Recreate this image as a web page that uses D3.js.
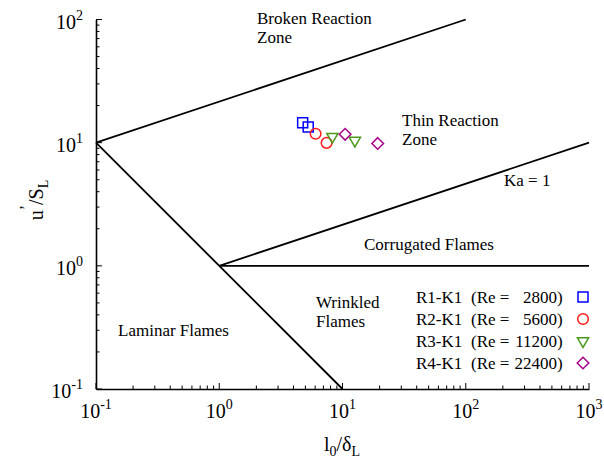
<!DOCTYPE html>
<html lang="en">
<head>
    <meta charset="UTF-8">
    <title>Regime diagram</title>
    <style>
        body { margin: 0; background: #fff; }
    </style>
</head>
<body>
    <svg width="604" height="461"></svg>

    <script src="https://d3js.org/d3.v7.min.js"></script>
    <script>
        // Data
        const series = ['R1-K1', 'R2-K1', 'R3-K1', 'R4-K1'];
        const reynolds = [2800, 5600, 11200, 22400];
        const lengthRatio = [[4.75, 5.27], [6.05, 7.43], [8.28, 12.6], [10.5, 19.3]];
        const velocityRatio = [[14.5, 13.4], [11.8, 9.96], [11.2, 10.4], [11.7, 9.85]];
        const xTicks = [0.1, 1, 10, 100, 1000];
        const yTicks = [0.1, 1, 10, 100];
        const xExponents = ['-1', '0', '1', '2', '3'];
        const yExponents = ['-1', '0', '1', '2'];
        // regime boundaries, as [l0/dL, u'/SL] end points
        const boundaries = [
            [[0.1, 10], [100, 100]],
            [[0.1, 10], [10, 0.1]],
            [[1, 1], [1000, 10]],
            [[1, 1], [1000, 1]]
        ];

        const colors = ['#0000ff', '#ff1a1a', '#4c9a1c', '#a8008c'];
        const shapes = ['square', 'circle', 'triangle', 'diamond'];
        const serif = '"Liberation Serif", "Times New Roman", serif';

        const plotLeft = 96, plotRight = 589, plotTop = 19.5, plotBottom = 389;

        const svg = d3.select('svg').style('font-family', serif);

        const x = d3.scaleLog().domain([0.1, 1000]).range([plotLeft, plotRight]);
        const y = d3.scaleLog().domain([0.1, 100]).range([plotBottom, plotTop]);

        // marker paths centred on 0,0
        function marker(shape) {
            const p = d3.path();
            if (shape === 'square') {
                p.rect(-5, -5, 10, 10);
            } else if (shape === 'circle') {
                p.arc(0, 0, 5.3, 0, 2 * Math.PI);
            } else if (shape === 'triangle') {
                p.moveTo(-5.6, -3.2); p.lineTo(5.6, -3.2); p.lineTo(0, 6.4); p.closePath();
            } else {
                p.moveTo(0, -5.8); p.lineTo(5.8, 0); p.lineTo(0, 5.8); p.lineTo(-5.8, 0); p.closePath();
            }
            return p.toString();
        }

        function addText(sel) {
            return sel.append('text').style('font-family', serif).attr('fill', '#000');
        }

        // axes: only bottom and left, ticks inside
        svg.append('g').attr('transform', `translate(0,${plotBottom})`)
            .call(d3.axisTop(x).tickValues([]).tickSize(0))
            .call(g => g.select('.domain').attr('stroke-width', 1.6));
        svg.append('g').selectAll('line')
            .data(x.ticks())
            .join('line')
            .attr('x1', d => x(d)).attr('x2', d => x(d))
            .attr('y1', plotBottom)
            .attr('y2', d => plotBottom - (xTicks.includes(d) ? 6 : 3.5))
            .attr('stroke', '#000').attr('stroke-width', 1);

        svg.append('g').attr('transform', `translate(${plotLeft},0)`)
            .call(d3.axisRight(y).tickValues([]).tickSize(0))
            .call(g => g.select('.domain').attr('stroke-width', 1.6));
        svg.append('g').selectAll('line')
            .data(y.ticks())
            .join('line')
            .attr('y1', d => y(d)).attr('y2', d => y(d))
            .attr('x1', plotLeft)
            .attr('x2', d => plotLeft + (yTicks.includes(d) ? 6 : 3.5))
            .attr('stroke', '#000').attr('stroke-width', 1);

        // tick labels 10^n
        const xl = svg.append('g').selectAll('text')
            .data(xTicks)
            .join('text')
            .style('font-family', serif)
            .attr('font-size', 20)
            .attr('x', d => x(d))
            .attr('y', 418)
            .attr('text-anchor', 'middle');
        xl.append('tspan').text('10');
        xl.append('tspan').attr('dy', -9).attr('font-size', 14).text((d, i) => xExponents[i]);

        const yl = svg.append('g').selectAll('text')
            .data(yTicks)
            .join('text')
            .style('font-family', serif)
            .attr('font-size', 20)
            .attr('x', 83)
            .attr('y', d => y(d) + 9)
            .attr('text-anchor', 'end');
        yl.append('tspan').text('10');
        yl.append('tspan').attr('dy', -9).attr('font-size', 14).text((d, i) => yExponents[i]);

        // axis titles
        const xt = addText(svg).attr('font-size', 20)
            .attr('x', 342).attr('y', 451).attr('text-anchor', 'middle');
        xt.append('tspan').text('l');
        xt.append('tspan').attr('dy', 5).attr('font-size', 14).text('0');
        xt.append('tspan').attr('dy', -5).text('/δ');
        xt.append('tspan').attr('dy', 5).attr('font-size', 14).text('L');

        const yt = addText(svg).attr('font-size', 20)
            .attr('transform', 'translate(43,200) rotate(-90)').attr('text-anchor', 'middle');
        yt.append('tspan').text('u');
        yt.append('tspan').attr('dy', -12).attr('font-size', 16).text('\u2019');
        yt.append('tspan').attr('dy', 12).text('/S');
        yt.append('tspan').attr('dy', 5).attr('font-size', 14).text('L');

        // regime boundaries
        svg.append('g').selectAll('line')
            .data(boundaries)
            .join('line')
            .attr('x1', d => x(d[0][0])).attr('y1', d => y(d[0][1]))
            .attr('x2', d => x(d[1][0])).attr('y2', d => y(d[1][1]))
            .attr('stroke', '#000').attr('stroke-width', 1.8);

        // zone labels, one text per label with a tspan per line
        const zones = [
            { lines: ['Broken Reaction', 'Zone'], x: 257, y: 24 },
            { lines: ['Thin Reaction', 'Zone'], x: 402, y: 126 },
            { lines: ['Ka = 1'], x: 504, y: 186 },
            { lines: ['Corrugated Flames'], x: 364, y: 250 },
            { lines: ['Wrinkled', 'Flames'], x: 316, y: 307.5 },
            { lines: ['Laminar Flames'], x: 118, y: 336 }
        ];
        zones.forEach(z => {
            const t = addText(svg).attr('font-size', 17).attr('x', z.x).attr('y', z.y);
            z.lines.forEach((line, i) => {
                t.append('tspan').attr('x', z.x).attr('dy', i === 0 ? 0 : 19).text(line);
            });
        });

        // data points
        series.forEach((s, i) => {
            svg.append('g').selectAll('path')
                .data(lengthRatio[i].map((v, j) => [v, velocityRatio[i][j]]))
                .join('path')
                .attr('d', marker(shapes[i]))
                .attr('transform', d => `translate(${x(d[0])},${y(d[1])})`)
                .attr('fill', 'none')
                .attr('stroke', colors[i])
                .attr('stroke-width', 1.5);
        });

        // legend
        const legend = svg.append('g').selectAll('g')
            .data(series)
            .join('g')
            .attr('transform', (d, i) => `translate(0,${297 + i * 22})`);
        addText(legend).attr('font-size', 17).attr('x', 416).attr('y', 6).text(d => d);
        addText(legend).attr('font-size', 17).attr('x', 471).attr('y', 6).text('(Re =');
        addText(legend).attr('font-size', 17).attr('x', 557).attr('y', 6)
            .attr('text-anchor', 'end').text((d, i) => reynolds[i]);
        addText(legend).attr('font-size', 17).attr('x', 557).attr('y', 6).text(')');
        legend.append('path')
            .attr('d', (d, i) => marker(shapes[i]))
            .attr('transform', 'translate(583,0)')
            .attr('fill', 'none')
            .attr('stroke', (d, i) => colors[i])
            .attr('stroke-width', 1.5);
    </script>
</body>
</html>
